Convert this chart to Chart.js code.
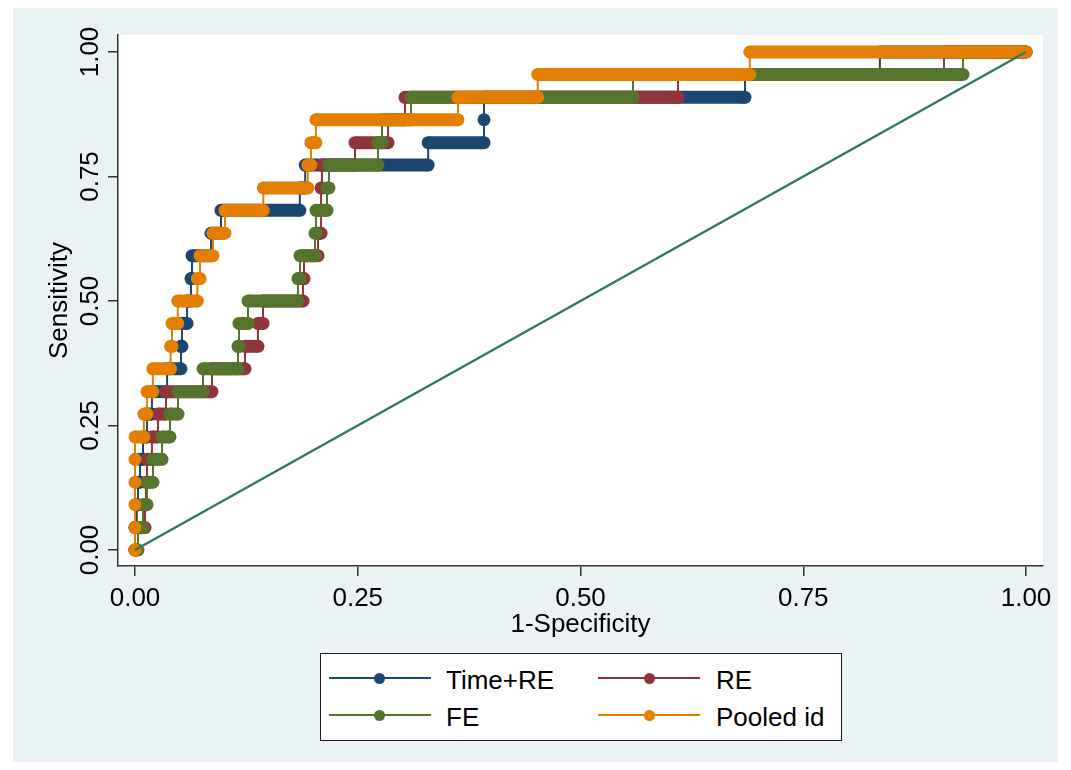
<!DOCTYPE html>
<html>
<head>
<meta charset="utf-8">
<script src="https://cdn.jsdelivr.net/npm/chart.js@4.4.0/dist/chart.umd.min.js"></script>
<style>
body{margin:0;background:#fff;font-family:"Liberation Sans",Arial,sans-serif;}
#wrap{position:relative;width:1071px;height:770px;}
canvas{position:absolute;left:0;top:0;}
.lg{position:absolute;}
</style>
</head>
<body>
<div id="wrap">
<canvas id="roc" width="1071" height="770"></canvas>
</div>
<script>
// sensitivity levels (steps of 1/22)
const sensitivity=[0,0.045,0.091,0.136,0.182,0.227,0.273,0.318,0.364,0.409,0.455,0.5,0.545,0.591,0.636,0.682,0.727,0.773,0.818,0.864,0.909,0.955,1];

// 1-specificity where each sensitivity level ends
const timeReFpr=[0,0.002,0.0034,0.0056,0.009,0.0135,0.019,0.036,0.0516,0.0527,0.0584,0.0628,0.064,0.0853,0.0965,0.185,0.191,0.329,0.3917,0.3917,0.6846,0.836,1];
const reFpr=[0,0.0112,0.0123,0.0135,0.019,0.0258,0.0348,0.0864,0.1235,0.138,0.1437,0.1886,0.1897,0.2054,0.2088,0.2088,0.2099,0.2469,0.284,0.303,0.6094,0.908,1];
const feFpr=[0.0034,0.009,0.0135,0.0202,0.0303,0.0393,0.0483,0.0763,0.1156,0.1167,0.1268,0.1829,0.1852,0.202,0.2031,0.2155,0.2177,0.2727,0.2772,0.3098,0.5589,0.9293,1];
const pooledFpr=[0,0,0,0,0,0.010,0.0135,0.020,0.040,0.0415,0.048,0.070,0.073,0.0875,0.101,0.144,0.194,0.1975,0.203,0.3625,0.452,0.690,1];

const seriesNames=["Time+RE","RE","FE","Pooled id"];
const seriesColors=["#1a476f","#90353b","#55752f","#e37e00"];

const xTicks=[0,0.25,0.5,0.75,1];
const xTickLabels=["0.00","0.25","0.50","0.75","1.00"];
const yTicks=[0,0.25,0.5,0.75,1];
const yTickLabels=["0.00","0.25","0.50","0.75","1.00"];

const FONT='26px "Liberation Sans", Arial, sans-serif';

function stepPoints(fpr){
let pts=[];
let prev=0;
fpr.forEach((end,k)=>{
pts.push({x:prev,y:sensitivity[k]});
if(end!==prev) pts.push({x:end,y:sensitivity[k]});
prev=end;
});
return pts;
}

function rocSet(i,fpr,order){
let c=seriesColors[i];
return {
label:seriesNames[i],
data:stepPoints(fpr),
borderColor:c,
backgroundColor:c,
pointBackgroundColor:c,
pointBorderWidth:0,
pointRadius:6.5,
borderWidth:2,
order:order,
clip:false,
segment:{
borderWidth:s=>s.p0.parsed.y===s.p1.parsed.y?13:2
}
};
}

const bg={
id:"bg",
beforeDraw(chart){
let ctx=chart.ctx,a=chart.chartArea;
ctx.save();
ctx.fillStyle="#fff";
ctx.fillRect(0,0,chart.width,chart.height);
ctx.fillStyle="#eaf2f3";
ctx.fillRect(13,8,1045,754);
ctx.fillStyle="#fff";
ctx.fillRect(a.left,a.top,a.right-a.left,a.bottom-a.top);
ctx.restore();
}
};

const labels={
id:"labels",
afterDraw(chart){
let ctx=chart.ctx,a=chart.chartArea;
let xs=chart.scales.x,ys=chart.scales.y;
ctx.save();
ctx.font=FONT;
ctx.fillStyle="#000";
ctx.textBaseline="alphabetic";
ctx.textAlign="center";
xTicks.forEach((v,i)=>{
ctx.fillText(xTickLabels[i],xs.getPixelForValue(v),606);
});
ctx.fillText("1-Specificity",(a.left+a.right)/2,632);
yTicks.forEach((v,i)=>{
ctx.save();
ctx.translate(98,ys.getPixelForValue(v));
ctx.rotate(-Math.PI/2);
ctx.fillText(yTickLabels[i],0,0);
ctx.restore();
});
ctx.save();
ctx.translate(67,(a.top+a.bottom)/2);
ctx.rotate(-Math.PI/2);
ctx.fillText("Sensitivity",0,0);
ctx.restore();
ctx.restore();
}
};

function axis(min,max,ticks){
return {
type:"linear",
min:min,
max:max,
afterBuildTicks:s=>{s.ticks=ticks.map(v=>({value:v}));},
ticks:{display:false},
grid:{drawOnChartArea:false,drawTicks:true,tickLength:10,color:"#333",lineWidth:1.5},
border:{display:true,color:"#333",width:1.5}
};
}

let xAxis=axis(-17/891,1+17/891,xTicks);
xAxis.afterFit=s=>{s.height=10;};
let yAxis=axis(-16/498,1+17/498,yTicks);
yAxis.afterFit=s=>{s.width=118;};

new Chart(document.getElementById("roc"),{
type:"line",
data:{
datasets:[
{label:"ref",data:[{x:0,y:0},{x:1,y:1}],borderColor:"#2f7868",borderWidth:2.5,pointRadius:0,order:0,clip:false},
rocSet(3,pooledFpr,1),
rocSet(2,feFpr,2),
rocSet(1,reFpr,3),
rocSet(0,timeReFpr,4)
]
},
options:{
responsive:false,
animation:false,
layout:{padding:{left:0,right:28,top:35,bottom:194}},
plugins:{legend:{display:false},tooltip:{enabled:false}},
elements:{line:{tension:0}},
scales:{x:xAxis,y:yAxis}
},
plugins:[bg,labels]
});

// legend box
let wrap=document.getElementById("wrap");
let box=document.createElement("div");
box.className="lg";
box.style.cssText="left:320px;top:653px;width:522px;height:88px;box-sizing:border-box;border:1.5px solid #1a1a1a;background:#fff;";
wrap.appendChild(box);

const legendCols=[{line:329,dot:379,text:446},{line:598,dot:649,text:716}];
const legendRows=[678,715];

seriesNames.forEach((name,i)=>{
let col=legendCols[i%2],row=legendRows[Math.floor(i/2)];
let line=document.createElement("div");
line.className="lg";
line.style.cssText=`left:${col.line}px;top:${row-1}px;width:102px;height:2px;background:${seriesColors[i]};`;
let dot=document.createElement("div");
dot.className="lg";
dot.style.cssText=`left:${col.dot-5.5}px;top:${row-5.5}px;width:11px;height:11px;border-radius:50%;background:${seriesColors[i]};`;
let txt=document.createElement("div");
txt.className="lg";
txt.style.cssText=`left:${col.text}px;top:${row-11}px;font-size:26px;line-height:26px;color:#000;white-space:nowrap;`;
txt.textContent=name;
wrap.appendChild(line);
wrap.appendChild(dot);
wrap.appendChild(txt);
});
</script>
</body>
</html>
